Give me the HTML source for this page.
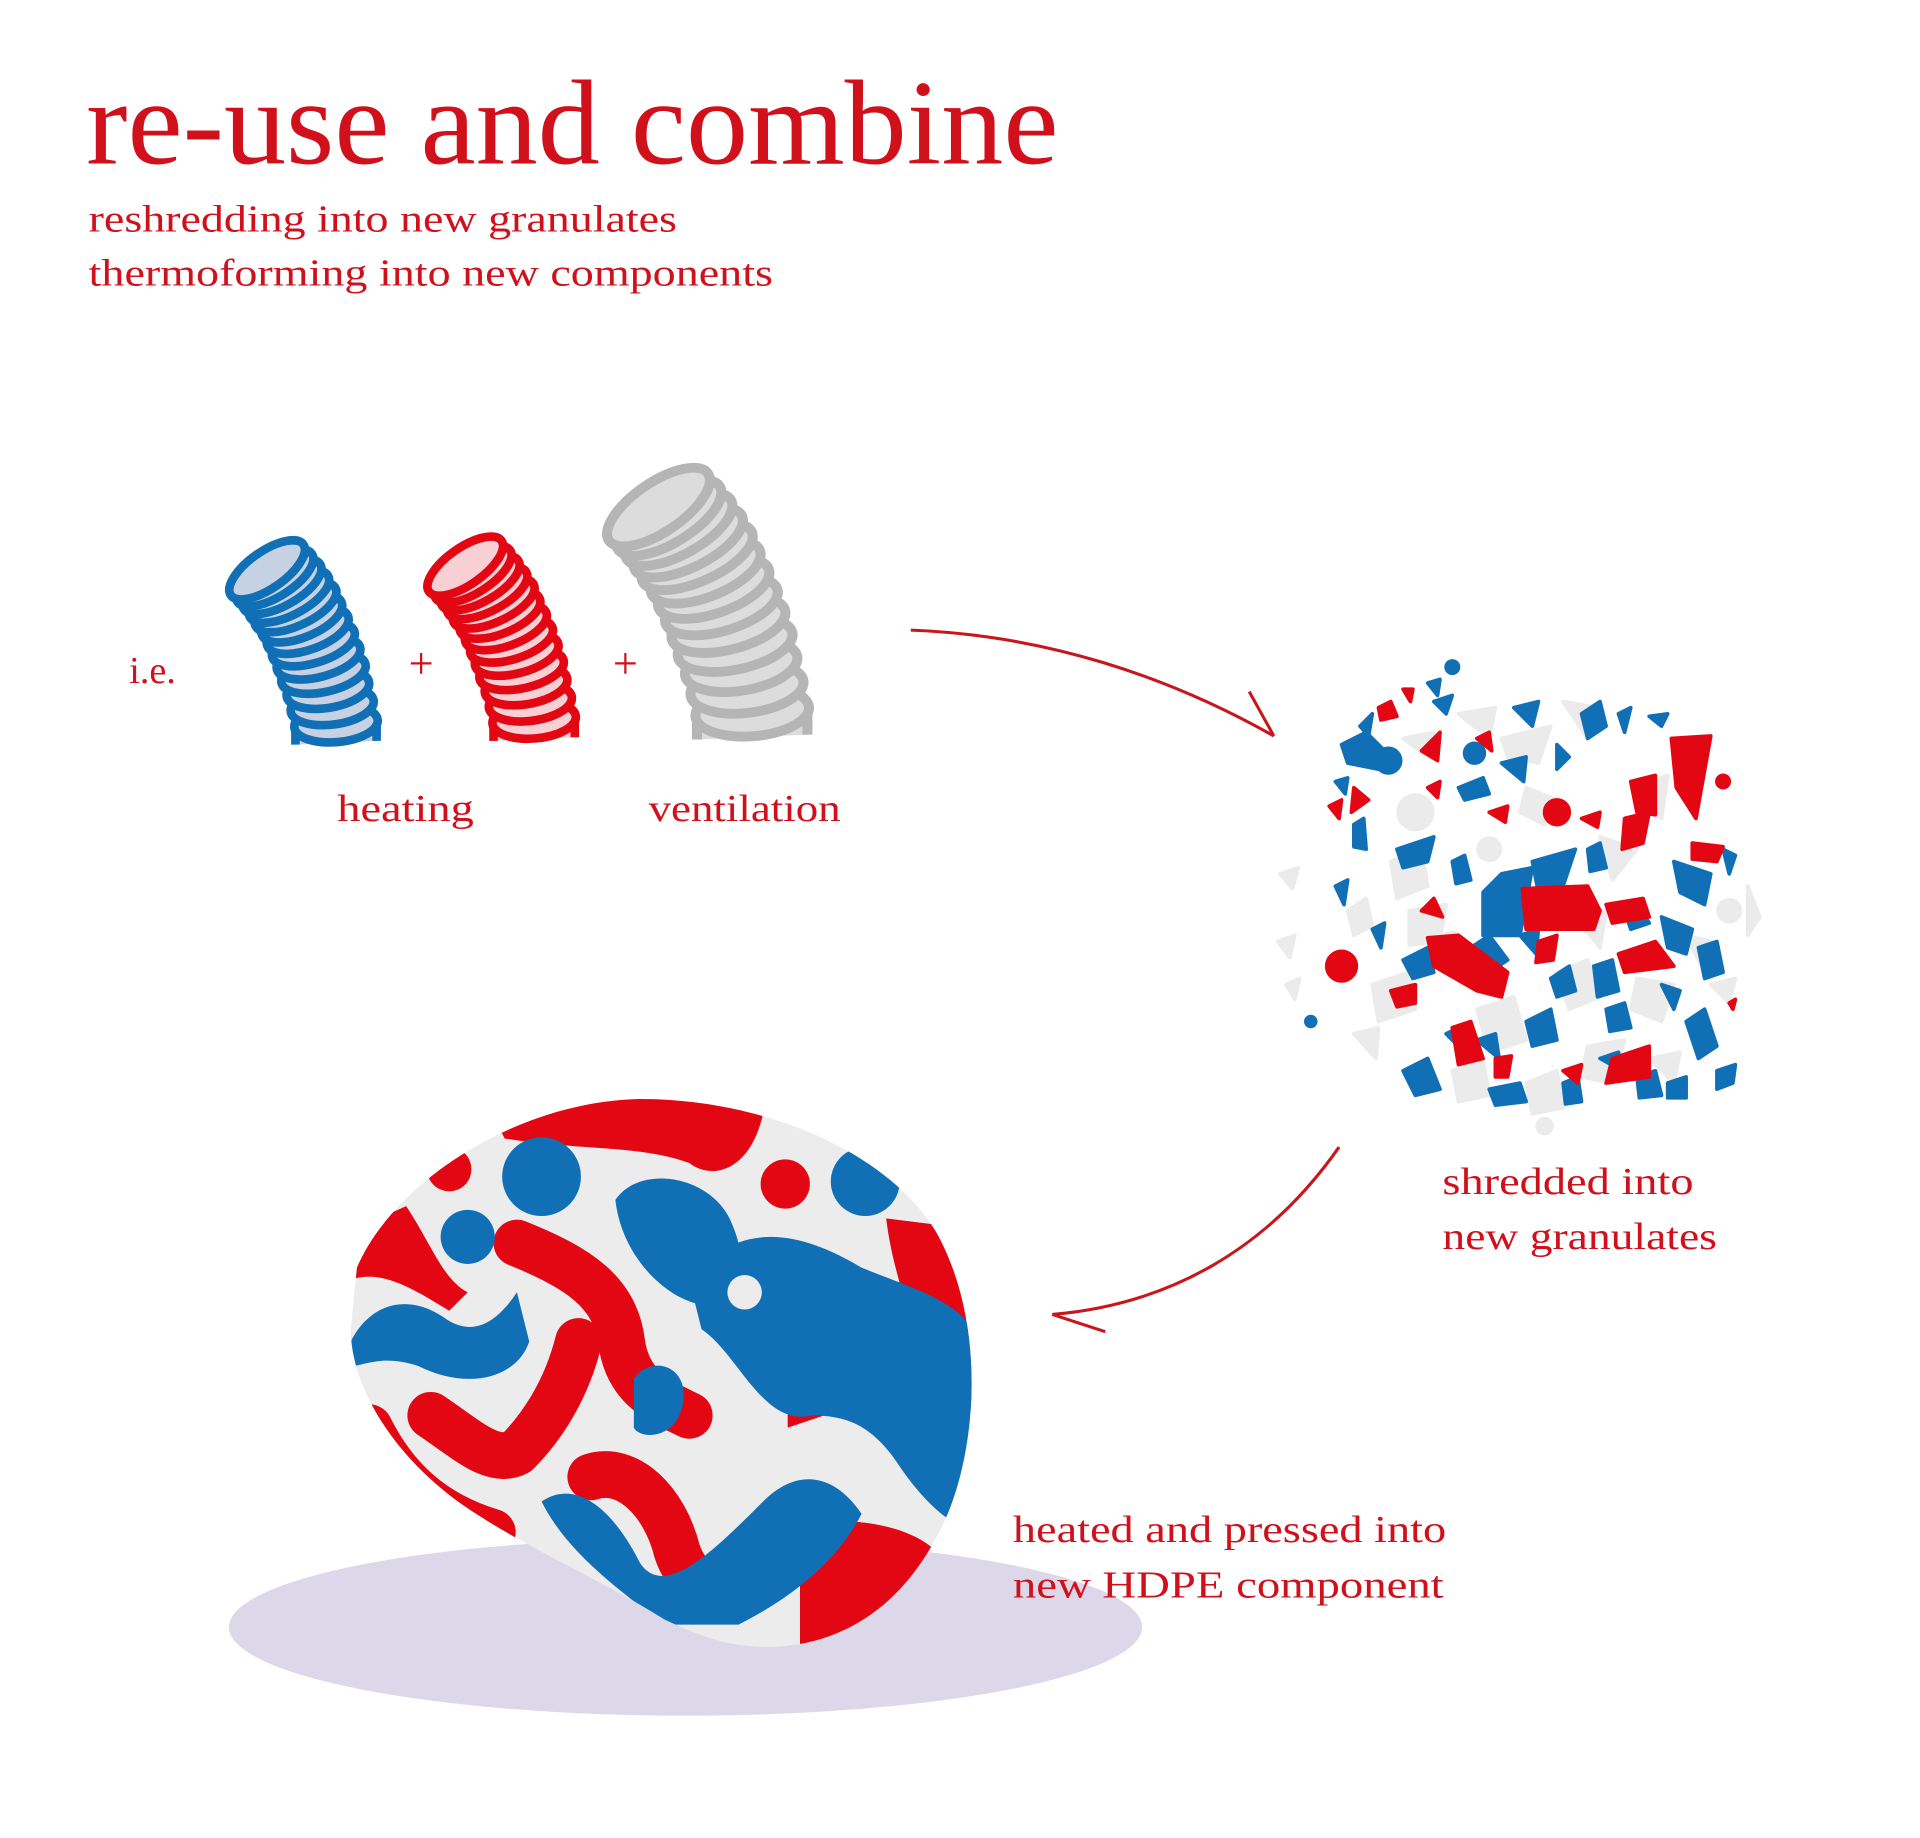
<!DOCTYPE html>
<html><head><meta charset="utf-8"><style>
html,body{margin:0;padding:0;background:#fff;}
svg{display:block;}
</style></head><body>
<svg xmlns="http://www.w3.org/2000/svg" xmlns:xlink="http://www.w3.org/1999/xlink" width="1920" height="1838" viewBox="0 0 1560 1493.4">
<defs>
<clipPath id="bc"><path id="blobp" d="M290,1030 C320,960 420,895 520,893 C620,893 720,935 760,1000 C800,1070 795,1170 770,1230 C740,1300 690,1335 630,1338 C590,1340 560,1325 540,1316 C500,1290 430,1258 390,1232 C325,1192 285,1130 285,1080 Z"/></clipPath>
<g id="tb">
<path d="M23,125 L23,142 L89,139 L89,125 Z" stroke="none"/>
<path d="M23,125 L23,142 M89,125 L89,139" fill="none"/>
<ellipse cx="56" cy="125" rx="34" ry="15" transform="rotate(-5 56 125)"/>
<ellipse cx="52.9" cy="110.7" rx="34" ry="15" transform="rotate(-7.5 52.9 110.7)"/>
<ellipse cx="49.4" cy="97.1" rx="34" ry="15" transform="rotate(-10 49.4 97.1)"/>
<ellipse cx="45.8" cy="84.2" rx="35" ry="15" transform="rotate(-12.5 45.8 84.2)"/>
<ellipse cx="41.8" cy="72" rx="35" ry="15" transform="rotate(-15 41.8 72)"/>
<ellipse cx="37.6" cy="60.6" rx="35" ry="15" transform="rotate(-17.5 37.6 60.6)"/>
<ellipse cx="33" cy="49.8" rx="35" ry="15" transform="rotate(-20 33 49.8)"/>
<ellipse cx="28.2" cy="39.7" rx="35" ry="15" transform="rotate(-22.5 28.2 39.7)"/>
<ellipse cx="23.1" cy="30.3" rx="36" ry="15" transform="rotate(-25 23.1 30.3)"/>
<ellipse cx="17.8" cy="21.7" rx="36" ry="15" transform="rotate(-27.5 17.8 21.7)"/>
<ellipse cx="12.1" cy="13.7" rx="36" ry="15" transform="rotate(-30 12.1 13.7)"/>
<ellipse cx="6.2" cy="6.6" rx="36" ry="15" transform="rotate(-32.5 6.2 6.6)"/>
<ellipse cx="0" cy="0" rx="36" ry="15" transform="rotate(-35 0 0)"/>
</g>
</defs>
<ellipse cx="557" cy="1322" rx="371" ry="72" fill="#dcd8ea"/>
<g fill="none" stroke="#c8161d" stroke-width="2.5">
<path d="M740,512 C850,516 950,550 1035,598"/>
<path d="M1015,562 L1035,598"/>
<path d="M1088,932 C1030,1015 950,1060 855,1068"/>
<path d="M855,1068 L898,1082"/>
</g>
<use xlink:href="#tb" href="#tb" transform="translate(217,463)" fill="#c6d2e3" stroke="#1170b5" stroke-width="7"/>
<use xlink:href="#tb" href="#tb" transform="translate(378,460)" fill="#f8d0d3" stroke="#e30613" stroke-width="7"/>
<use xlink:href="#tb" href="#tb" transform="translate(535,412) scale(1.36,1.33)" fill="#dcdcdc" stroke="#b5b5b5" stroke-width="6"/>
<g stroke-linejoin="round" stroke-width="3">
<g fill="#ebebeb" stroke="#ebebeb">
<polygon points="1040,710 1055,705 1050,722"/><polygon points="1038,765 1052,760 1048,778"/><polygon points="1045,800 1056,795 1052,812"/>
<polygon points="1095,740 1110,730 1115,752 1100,760"/><circle cx="1150" cy="660" r="14"/><polygon points="1130,700 1155,690 1160,720 1135,730"/>
<polygon points="1185,580 1215,575 1210,600"/><polygon points="1220,600 1260,590 1250,620 1225,615"/><polygon points="1270,570 1300,575 1290,600"/>
<polygon points="1330,640 1355,630 1350,665"/><polygon points="1300,680 1330,690 1310,715"/><circle cx="1405" cy="740" r="9"/><polygon points="1420,720 1430,745 1420,760"/>
<polygon points="1145,740 1175,735 1170,765 1145,768"/><circle cx="1180" cy="770" r="12"/><polygon points="1115,800 1145,790 1150,820 1120,830"/>
<polygon points="1200,820 1230,810 1240,845 1210,855"/><polygon points="1265,790 1290,780 1300,810 1275,820"/><polygon points="1330,795 1360,800 1350,830 1325,820"/>
<polygon points="1290,850 1320,845 1310,880 1285,875"/><polygon points="1180,870 1205,860 1210,890 1185,895"/><polygon points="1240,880 1265,870 1270,900 1245,905"/>
<polygon points="1370,760 1390,765 1385,790"/><polygon points="1140,600 1165,595 1160,615"/><polygon points="1240,640 1265,650 1255,670 1235,660"/>
<circle cx="1210" cy="690" r="9"/><polygon points="1280,745 1305,740 1300,770"/><polygon points="1100,840 1120,835 1118,860"/><circle cx="1255" cy="915" r="6"/>
<polygon points="1340,860 1365,855 1360,880"/><polygon points="1390,800 1410,795 1405,815"/>
</g>
<g fill="#1170b5" stroke="#1170b5">
<polygon points="1090,605 1110,595 1125,610 1120,625 1095,620"/><circle cx="1128" cy="618" r="10"/><polygon points="1160,555 1170,552 1168,565"/><polygon points="1165,570 1180,565 1175,580"/>
<polygon points="1105,590 1115,580 1112,598"/><circle cx="1198" cy="612" r="8"/><polygon points="1185,640 1205,632 1210,645 1190,650"/><polygon points="1230,575 1250,570 1245,590"/>
<polygon points="1285,580 1300,570 1305,590 1290,600"/><polygon points="1315,580 1325,575 1320,595"/><polygon points="1340,582 1355,580 1350,590"/><circle cx="1180" cy="542" r="5"/>
<polygon points="1220,620 1240,615 1238,635"/><polygon points="1265,605 1275,615 1265,625"/><polygon points="1085,635 1095,632 1093,645"/><polygon points="1100,670 1108,665 1110,690 1100,688"/>
<polygon points="1135,690 1165,680 1160,700 1140,705"/><polygon points="1180,700 1190,695 1195,715 1183,718"/><polygon points="1205,725 1220,710 1245,705 1235,760 1205,760"/>
<polygon points="1245,700 1280,690 1270,720 1250,725"/><polygon points="1290,690 1300,685 1305,705 1292,708"/><polygon points="1320,740 1330,735 1340,750 1325,755"/>
<polygon points="1360,700 1390,710 1385,735 1365,725"/><polygon points="1400,690 1410,695 1405,710"/><polygon points="1350,745 1375,755 1370,775 1355,770"/>
<polygon points="1085,720 1095,715 1092,735"/><polygon points="1115,755 1125,750 1122,770"/><polygon points="1080,780 1095,775 1090,795"/><circle cx="1065" cy="830" r="4"/>
<polygon points="1140,780 1160,770 1165,790 1148,795"/><polygon points="1195,770 1210,760 1225,780 1210,790"/><polygon points="1235,760 1250,755 1248,775"/>
<polygon points="1260,795 1275,785 1280,805 1265,810"/><polygon points="1295,785 1310,780 1315,805 1298,810"/><polygon points="1380,770 1395,765 1400,790 1385,795"/>
<polygon points="1305,820 1320,815 1325,835 1308,838"/><polygon points="1240,830 1260,820 1265,845 1245,850"/><polygon points="1370,830 1385,820 1395,850 1380,860"/>
<polygon points="1395,870 1410,865 1408,880 1395,885"/><polygon points="1140,870 1160,860 1170,885 1150,890"/><polygon points="1200,845 1215,840 1218,860"/>
<polygon points="1210,885 1235,880 1240,895 1215,898"/><polygon points="1270,880 1282,875 1285,895 1272,897"/><polygon points="1330,875 1345,870 1350,890 1332,892"/>
<polygon points="1355,880 1370,875 1370,892 1355,892"/><polygon points="1300,860 1315,855 1318,870"/><polygon points="1175,840 1185,835 1185,850"/><polygon points="1350,800 1365,805 1360,820"/>
</g>
<g fill="#e30613" stroke="#e30613">
<polygon points="1120,575 1130,570 1135,582 1122,585"/><polygon points="1140,560 1148,560 1146,570"/><polygon points="1155,610 1170,595 1168,618"/><polygon points="1100,640 1098,660 1112,650"/>
<polygon points="1358,600 1390,598 1378,665 1362,640"/><polygon points="1325,635 1345,630 1345,662 1330,660"/><circle cx="1400" cy="635" r="5"/><polygon points="1200,600 1210,595 1212,610"/>
<circle cx="1265" cy="660" r="10"/><polygon points="1285,665 1300,660 1298,672"/><polygon points="1320,665 1340,660 1335,685 1318,690"/><polygon points="1375,685 1400,688 1395,700 1375,698"/>
<polygon points="1237,722 1290,720 1300,740 1295,755 1240,755"/><polygon points="1305,735 1335,730 1340,745 1310,750"/><polygon points="1160,762 1185,760 1225,790 1220,810 1200,805 1165,785"/>
<circle cx="1090" cy="785" r="12"/><polygon points="1130,805 1150,800 1150,815 1135,818"/><polygon points="1155,740 1165,730 1172,745"/><polygon points="1250,765 1265,760 1262,780 1248,782"/>
<polygon points="1315,775 1345,765 1360,785 1320,790"/><polygon points="1180,835 1195,830 1205,860 1185,865"/><polygon points="1215,860 1228,858 1225,875 1215,875"/>
<polygon points="1310,860 1340,850 1340,875 1305,880"/><polygon points="1270,870 1285,865 1282,880"/><polygon points="1405,815 1410,812 1408,820"/><polygon points="1160,640 1170,635 1168,648"/>
<polygon points="1210,660 1225,655 1223,668"/><polygon points="1080,655 1090,650 1088,665"/>
</g>
</g>
<use xlink:href="#blobp" href="#blobp" fill="#ececec"/>
<g clip-path="url(#bc)" stroke-linecap="round" stroke-linejoin="round">
<g fill="#e30613">
<path d="M400,905 C470,890 560,880 620,905 C610,950 580,960 560,945 C520,930 470,935 410,925 Z"/>
<circle cx="365" cy="950" r="18"/>
<circle cx="638" cy="962" r="20"/>
<path d="M285,1000 L330,980 C350,1010 360,1040 380,1050 L365,1065 C340,1050 310,1030 285,1040 Z"/>
<path d="M720,990 L800,1000 L800,1150 C770,1140 740,1110 740,1080 C735,1050 725,1030 720,990 Z"/>
<path d="M640,1130 C660,1110 690,1120 700,1140 L640,1160 Z"/>
<path d="M650,1240 C690,1230 740,1240 760,1260 L760,1340 L650,1340 Z"/>
</g>
<g fill="none" stroke="#e30613" stroke-width="38">
<path d="M420,1010 C470,1030 500,1050 505,1090 C510,1130 540,1140 560,1150"/>
<path d="M350,1150 C380,1170 400,1190 420,1180 C440,1160 460,1130 470,1090"/>
<path d="M300,1160 C320,1200 350,1230 400,1245"/>
<path d="M480,1200 C510,1190 540,1220 550,1260 C560,1290 580,1290 590,1280"/>
</g>
<g fill="#1170b5">
<circle cx="440" cy="956" r="32"/>
<circle cx="703" cy="960" r="28"/>
<circle cx="380" cy="1005" r="22"/>
<path d="M500,975 C520,945 580,955 595,995 C610,1030 600,1060 570,1060 C540,1055 505,1020 500,975 Z"/>
<path d="M560,1040 C600,990 650,1000 700,1030 C750,1050 790,1060 800,1100 L800,1240 C780,1250 750,1220 730,1190 C710,1160 690,1150 660,1150 C620,1160 600,1100 570,1080 Z"/>
<path d="M285,1090 C300,1060 330,1050 360,1070 C380,1085 400,1080 420,1050 L430,1090 C420,1120 380,1130 340,1110 C310,1100 295,1110 285,1110 Z"/>
<path d="M440,1220 C470,1200 500,1230 520,1270 C540,1300 580,1260 620,1220 C650,1190 680,1200 700,1230 C680,1270 640,1300 600,1320 L540,1320 C500,1290 460,1260 440,1220 Z"/>
<path d="M515,1120 C530,1100 560,1110 555,1140 C550,1170 520,1170 515,1160 Z"/>
</g>
<circle cx="605" cy="1050" r="14" fill="#ececec"/>
</g>
<g font-family="'Liberation Serif', serif" fill="#d0111b">
<text x="70" y="133" font-size="98" textLength="790" lengthAdjust="spacingAndGlyphs">re-use and combine</text>
<text x="72" y="188" font-size="31" textLength="478" lengthAdjust="spacingAndGlyphs">reshredding into new granulates</text>
<text x="72" y="232" font-size="31" textLength="556" lengthAdjust="spacingAndGlyphs">thermoforming into new components</text>
<text x="105" y="555" font-size="31">i.e.</text>
<text x="332" y="551" font-size="36">+</text>
<text x="498" y="551" font-size="36">+</text>
<text x="274" y="667" font-size="31" textLength="111" lengthAdjust="spacingAndGlyphs">heating</text>
<text x="527" y="667" font-size="31" textLength="156" lengthAdjust="spacingAndGlyphs">ventilation</text>
<text x="1172" y="970" font-size="31" textLength="204" lengthAdjust="spacingAndGlyphs">shredded into</text>
<text x="1172" y="1015" font-size="31" textLength="223" lengthAdjust="spacingAndGlyphs">new granulates</text>
<text x="823" y="1253" font-size="31" textLength="352" lengthAdjust="spacingAndGlyphs">heated and pressed into</text>
<text x="823" y="1298" font-size="31" textLength="350" lengthAdjust="spacingAndGlyphs">new HDPE component</text>
</g>
</svg>
</body></html>
